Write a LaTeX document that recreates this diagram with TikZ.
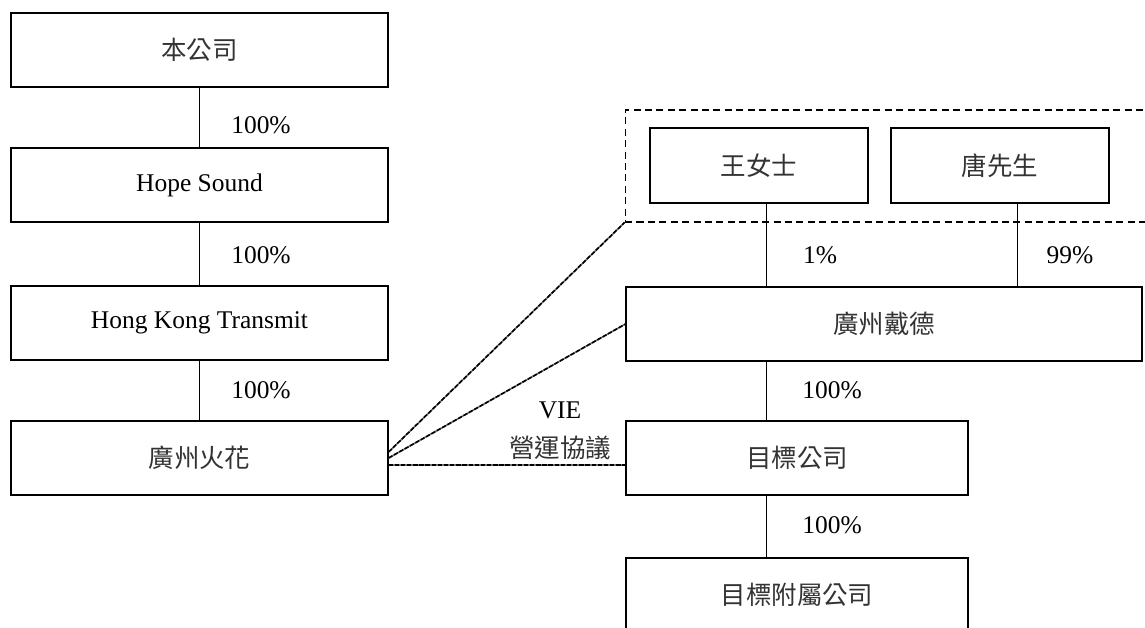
\documentclass[tikz,border=0pt]{standalone}
\usepackage{fontspec}
\setmainfont{Liberation Serif}
\newfontfamily\cjk[Color=333333]{Noto Sans CJK TC}
\begin{document}
\begin{tikzpicture}[
      x=0.02cm, y=-0.02cm,
      font=\fontsize{14.5}{17}\selectfont,
      entity/.style={draw, line width=0.7pt, minimum height=1.48cm, inner sep=0pt},
      wide/.style={entity, minimum width=7.54cm},
      mid/.style={entity, minimum width=6.84cm},
      person/.style={entity, minimum width=4.36cm, minimum height=1.5cm},
      own/.style={line width=0.5pt},
      vie/.style={line width=0.9pt, dash pattern=on 2.5pt off 1pt,
        preaction={draw, line width=0.9pt, black!55, solid}},
      pct/.style={inner sep=0pt}]
      \useasboundingbox (0,0) rectangle (1145,628);
      % left chain
      \node[wide] (company) at (199.5,50) {\cjk 本公司};
      \node[wide] (hope) at (199.5,185) {Hope Sound};
      \node[wide] (hktrans) at (199.5,323) {Hong Kong Transmit};
      \node[wide] (huohua) at (199.5,458) {\cjk 廣州火花};
      % right side
      \node[draw, dash pattern=on 4pt off 2.5pt, line width=0.6pt, minimum width=10.8cm,
        minimum height=2.24cm, inner sep=0pt] (owners) at (895,166) {};
      \node[person] (wang) at (759,165.5) {\cjk 王女士};
      \node[person] (tang) at (1000,165.5) {\cjk 唐先生};
      \node[entity, minimum width=10.32cm] (daide) at (884,324) {\cjk 廣州戴德};
      \node[mid] (target) at (797,458) {\cjk 目標公司};
      \node[mid] (subs) at (797,595) {\cjk 目標附屬公司};
      % ownership
      \draw[own] (company) -- (hope);
      \draw[own] (hope) -- (hktrans);
      \draw[own] (hktrans) -- (huohua);
      \draw[own] ([xshift=0.14cm]wang.south) -- ([xshift=0.14cm]wang.south |- daide.north);
      \draw[own] ([xshift=0.34cm]tang.south) -- ([xshift=0.34cm]tang.south |- daide.north);
      \draw[own] (daide.south -| 766,0) -- (target.north -| 766,0);
      \draw[own] (target.south -| 766,0) -- (subs.north -| 766,0);
      \node[pct] at (261,125) {100\%};
      \node[pct] at (261,255) {100\%};
      \node[pct] at (261,390) {100\%};
      \node[pct] at (820,255) {1\%};
      \node[pct] at (1070,255) {99\%};
      \node[pct] at (832,390) {100\%};
      \node[pct] at (832,525) {100\%};
      % VIE agreements
      \draw[vie] ([yshift=0.12cm]huohua.east) -- (owners.south west);
      \draw[vie] (huohua.east) -- (daide.west);
      \draw[vie] ([yshift=-0.14cm]huohua.east) -- ([yshift=-0.14cm]target.west);
      \node[pct] (vielabel) at (560,410) {VIE};
      \node[pct] at (560,448) {\cjk 營運協議};
    \end{tikzpicture}
\end{document}
